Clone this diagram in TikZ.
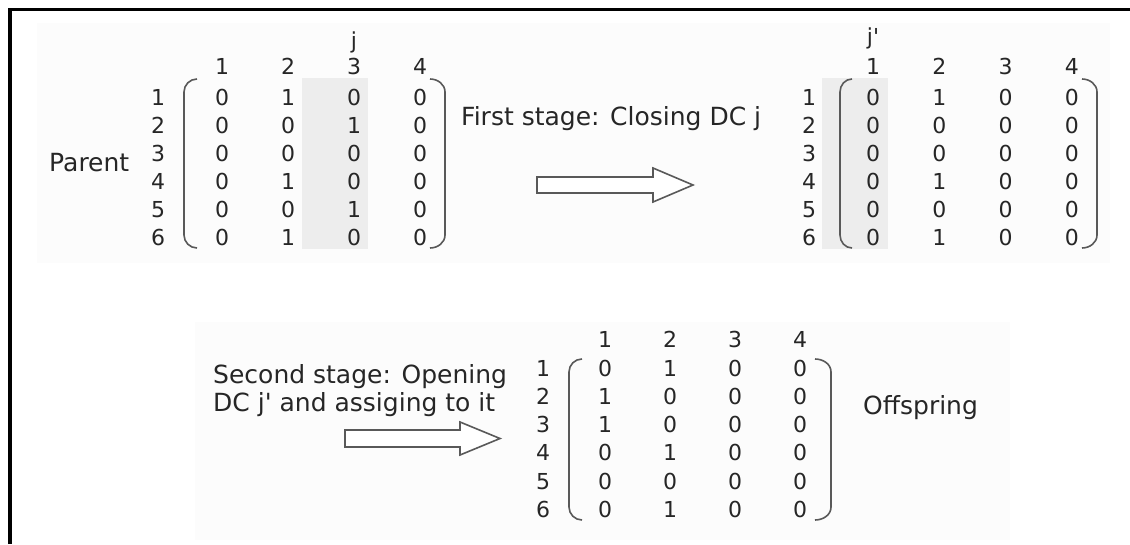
\documentclass[tikz,border=0pt]{standalone}
\usepackage{fontspec}
\usepackage{xcolor}
\setmainfont{DejaVu Sans}

\begin{document}
\begin{tikzpicture}[x=1pt,y=-1pt,
  txt/.style={inner sep=0pt,text=black!85,font=\fontsize{25}{28}\selectfont},
  num/.style={inner sep=0pt,text=black!85,font=\fontsize{22}{26}\selectfont,anchor=base},
  paren/.style={draw=black!65,line width=1.6pt},
  blockarr/.style={draw=black!65,line width=1.6pt,fill=white,line join=miter},
  hilite/.style={fill=black!7}]
  \useasboundingbox (0,0) rectangle (1130,544);
  \fill[black!1] (37,23) rectangle (1110,263);
  \fill[black!1] (195,322) rectangle (1010,540);
  \draw[line width=3.5pt] (10,544) -- (10,9.5) -- (1130,9.5);

  % parent
  \fill[hilite] (302,78) rectangle (368,249);
  \node[txt,anchor=base west] (parent) at (49,171) {Parent};
  \node[num] (pj) at (354,48) {j};
  \foreach \c in {1,...,4} \node[num] (ph-\c) at ({222+66*(\c-1)},74) {\c};
  \foreach \r/\vals in {1/{0,1,0,0},2/{0,0,1,0},3/{0,0,0,0},4/{0,1,0,0},5/{0,0,1,0},6/{0,1,0,0}} {
    \node[num] (pr-\r) at (158,{105+28*(\r-1)}) {\r};
    \foreach \v [count=\c] in \vals
      \node[num] (p-\r-\c) at ({222+66*(\c-1)},{105+28*(\r-1)}) {\v};
  }
  \draw[paren] (197,79) to[out=180,in=90] (184,92) -- (184,235) to[out=-90,in=180] (197,248);
  \draw[paren] (430,79) to[out=0,in=90] (445,92) -- (445,235) to[out=-90,in=0] (430,248);

  % first stage
  \node[txt,anchor=base west] (stage1) at (461,125) {First stage: Closing DC j};
  \draw[blockarr] (537,177) -- (653,177) -- (653,168) -- (693,185) -- (653,202) -- (653,193) -- (537,193) -- cycle;

  % closed
  \fill[hilite] (822,78) rectangle (888,249);
  \node[num] (cj) at (873,44) {j\textquotesingle};
  \foreach \c in {1,...,4} \node[num] (ch-\c) at ({873+66.3*(\c-1)},74) {\c};
  \foreach \r/\vals in {1/{0,1,0,0},2/{0,0,0,0},3/{0,0,0,0},4/{0,1,0,0},5/{0,0,0,0},6/{0,1,0,0}} {
    \node[num] (cr-\r) at (809,{105+28*(\r-1)}) {\r};
    \foreach \v [count=\c] in \vals
      \node[num] (c-\r-\c) at ({873+66.3*(\c-1)},{105+28*(\r-1)}) {\v};
  }
  \draw[paren] (852,79) to[out=180,in=90] (840,92) -- (840,235) to[out=-90,in=180] (852,248);
  \draw[paren] (1082,79) to[out=0,in=90] (1097,92) -- (1097,235) to[out=-90,in=0] (1082,248);

  % second stage
  \node[txt,anchor=base west,align=left] (stage2) at (213,411) {Second stage: Opening\\DC j\textquotesingle{} and assiging to it};
  \draw[blockarr] (345,430) -- (460,430) -- (460,422) -- (500,438.5) -- (460,455) -- (460,447) -- (345,447) -- cycle;

  % offspring
  \foreach \c in {1,...,4} \node[num] (oh-\c) at ({605+65*(\c-1)},347) {\c};
  \foreach \r/\vals in {1/{0,1,0,0},2/{1,0,0,0},3/{1,0,0,0},4/{0,1,0,0},5/{0,0,0,0},6/{0,1,0,0}} {
    \node[num] (or-\r) at (543,{376+28.3*(\r-1)}) {\r};
    \foreach \v [count=\c] in \vals
      \node[num] (o-\r-\c) at ({605+65*(\c-1)},{376+28.3*(\r-1)}) {\v};
  }
  \draw[paren] (582,359) to[out=180,in=90] (569,372) -- (569,507) to[out=-90,in=180] (582,520);
  \draw[paren] (815,359) to[out=0,in=90] (831,372) -- (831,507) to[out=-90,in=0] (815,520);
  \node[txt,anchor=base west] (offspring) at (863,414) {Offspring};
\end{tikzpicture}
\end{document}
